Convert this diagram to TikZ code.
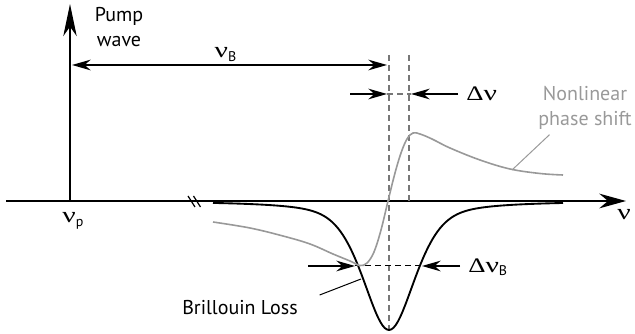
\documentclass[tikz,border=0pt]{standalone}
\usepackage{fontspec}
\setmainfont{PT Sans}
\newfontfamily\grk{Liberation Serif}
\usepackage{tikz}
\usetikzlibrary{arrows.meta,positioning,calc}
\definecolor{phasegray}{HTML}{999999}
\definecolor{dashgray}{HTML}{777777}
\newcommand{\gnu}{\scalebox{1.35}[1]{\grk\fontsize{16.5}{16.5}\selectfont ν}}
\newcommand{\gdelta}{\scalebox{1.3}[1]{\grk\fontsize{15.5}{15.5}\selectfont Δ}}
\newcommand{\gsub}[1]{\raisebox{-0.35ex}{\fontsize{10.5}{10.5}\selectfont #1}}

\begin{document}
\begin{tikzpicture}[x=0.75pt,y=-0.75pt,>=Stealth,
 every node/.style={align=center,font=\fontsize{15}{19}\selectfont,inner sep=2pt},
 axis/.style={line width=1.5pt,-{Stealth[length=20pt,width=11pt]}},
 pumpline/.style={line width=2.1pt,-{Stealth[length=24pt,width=10pt,inset=7pt]}},
 span/.style={line width=1.1pt,{Stealth[length=14pt,width=8pt]}-{Stealth[length=14pt,width=8pt]}},
 pointer/.style={line width=1.1pt,-{Stealth[length=14pt,width=8pt]}},
 guide/.style={draw=dashgray,line width=0.8pt,dash pattern=on 4.5pt off 3pt},
 halfwidth/.style={line width=0.75pt,dash pattern=on 4.5pt off 3pt},
 loss/.style={line width=1.4pt},
 phase/.style={draw=phasegray,line width=1.2pt},
 lead/.style={line width=0.75pt}]
\useasboundingbox (0,0) rectangle (635,334);
% frequency axis and pump
\coordinate (left) at (6,201);
\coordinate (right) at (626,201);
\coordinate (pump) at (70,201);
\coordinate (pumptop) at (70,4);
\draw[axis] (left) -- (right);
\draw[pumpline] (pump) -- (pumptop);
\draw[line width=0.9pt] (188,196) -- ++(7,11) (193.5,196) -- ++(7,11);
\node (pumplbl) at (119,27) {Pump\\wave};
\node (nup) at (73,221) {\gnu\gsub{p}};
\node (nuaxis) at (624,215) {\gnu};
% centre and shifted lines
\coordinate (ctrtop) at (389,55);
\coordinate (ctrbot) at (389,330);
\coordinate (shtop) at (409,55);
\coordinate (shbot) at (409,201);
\draw[guide] (ctrtop) -- (ctrbot);
\draw[guide] (shtop) -- (shbot);
% Brillouin shift
\coordinate (bstart) at (72,65);
\coordinate (bend) at (387,65);
\draw[span] (bstart) -- node[above=0pt,xshift=-3pt] (nub) {\gnu\gsub{B}} (bend);
% shift of the phase peak
\coordinate (dl) at (350,94);
\coordinate (dla) at (387,94);
\coordinate (dr) at (458,94);
\coordinate (dra) at (411,94);
\draw[pointer] (dl) -- (dla);
\draw[pointer] (dr) -- (dra);
\draw[guide] (dla) -- (dra);
\node[right=4pt of dr] (dnu) {\gdelta\gnu};
% gain bandwidth
\coordinate (wl) at (308,266);
\coordinate (wla) at (355,266);
\coordinate (wr) at (460,266);
\coordinate (wra) at (422,266);
\draw[pointer] (wl) -- (wla);
\draw[pointer] (wr) -- (wra);
\draw[halfwidth] (wla) -- (wra);
\node[right=4pt of wr,yshift=-1pt] (dnub) {\gdelta\gnu\gsub{B}};
% curves
\draw[loss] plot[domain=-176:174,samples=160]
 ({389+\x},{201+129*(0.5*exp(-0.693*(\x/31)^2)+0.5/(1+(\x/31)^2))});
\draw[phase] plot[smooth,tension=0.6] coordinates {(213,222) (250,228)
 (283,236) (310,244) (333,254) (350,261) (360,265.5) (367,263) (374,252)
 (381,230) (388,201) (395,173) (401,153) (407,139) (413,133) (420,134)
 (432,139) (450,148) (480,160) (510,169) (540,173.5) (563,175)};
% labels with leaders
\node[text=phasegray] (nps) at (585,108) {Nonlinear\\phase shift};
\coordinate (npsfoot) at (512,170);
\draw[lead,draw=phasegray] ($(nps.south west)+(14,2)$) -- (npsfoot);
\node (bl) at (240,308) {Brillouin Loss};
\coordinate (blfoot) at (361,279);
\draw[lead] ($(bl.east)+(19,-13)$) -- (blfoot);
\end{tikzpicture}
\end{document}
